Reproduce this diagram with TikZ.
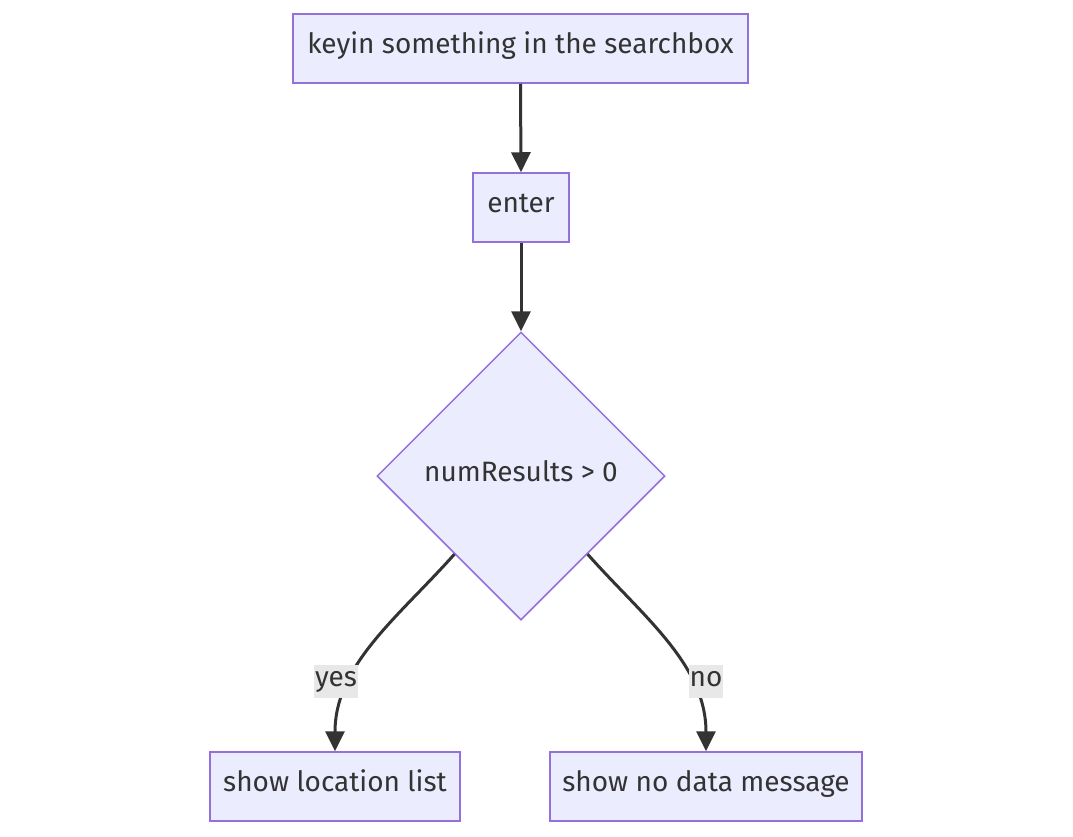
\documentclass[tikz,border=0pt]{standalone}
\usepackage{fontspec}
\setmainfont{Fira Sans}
\usetikzlibrary{shapes.geometric,arrows.meta,calc}
\definecolor{boxfill}{HTML}{ECECFF}
\definecolor{boxline}{HTML}{9370DB}
\definecolor{edgecol}{HTML}{333333}
\definecolor{lblfill}{HTML}{E8E8E8}
\tikzset{
  txt/.style={text=edgecol, font=\fontsize{28}{32}\selectfont, text height=19pt, text depth=9pt},
  procbox/.style={txt, draw=boxline, fill=boxfill, line width=1.5pt, minimum height=69pt, inner sep=0pt},
  decbox/.style={txt, draw=boxline, fill=boxfill, line width=1.5pt, shape=diamond, aspect=1, minimum width=288pt, minimum height=288pt, inner sep=0pt},
  flow/.style={draw=edgecol, line width=3pt, -{Triangle[length=20pt,width=19pt]}},
  lbl/.style={txt, fill=lblfill, inner xsep=1pt, inner ysep=0pt, minimum height=33pt}
}
\begin{document}
\begin{tikzpicture}[x=1pt,y=-1pt]
\useasboundingbox (0,0) rectangle (1073,836);
\node[procbox, minimum width=455pt] (a) at (520.5,48.5) {keyin something in the searchbox};
\node[procbox, minimum width=96pt] (b) at (521,207.5) {enter};
\node[decbox] (c) at (521,476) {numResults > 0};
\node[procbox, minimum width=250pt] (d) at (335,786.5) {show location list};
\node[procbox, minimum width=312pt] (e) at (706,786.5) {show no data message};
\coordinate (cl) at ($(c.west)!0.54!(c.south)$);
\coordinate (cr) at ($(c.east)!0.54!(c.south)$);
\draw[flow] (a.south) -- (b.north);
\draw[flow] (b.south) -- (c.north);
\draw[flow] (cl) .. controls ($(cl)+(-55,62)$) and ($(d.north)+(0,-87)$) .. (d.north);
\draw[flow] (cr) .. controls ($(cr)+(55,62)$) and ($(e.north)+(0,-87)$) .. (e.north);
\node[lbl] (ly) at (336,681.5) {yes};
\node[lbl] (ln) at (706,681.5) {no};
\end{tikzpicture}
\end{document}
